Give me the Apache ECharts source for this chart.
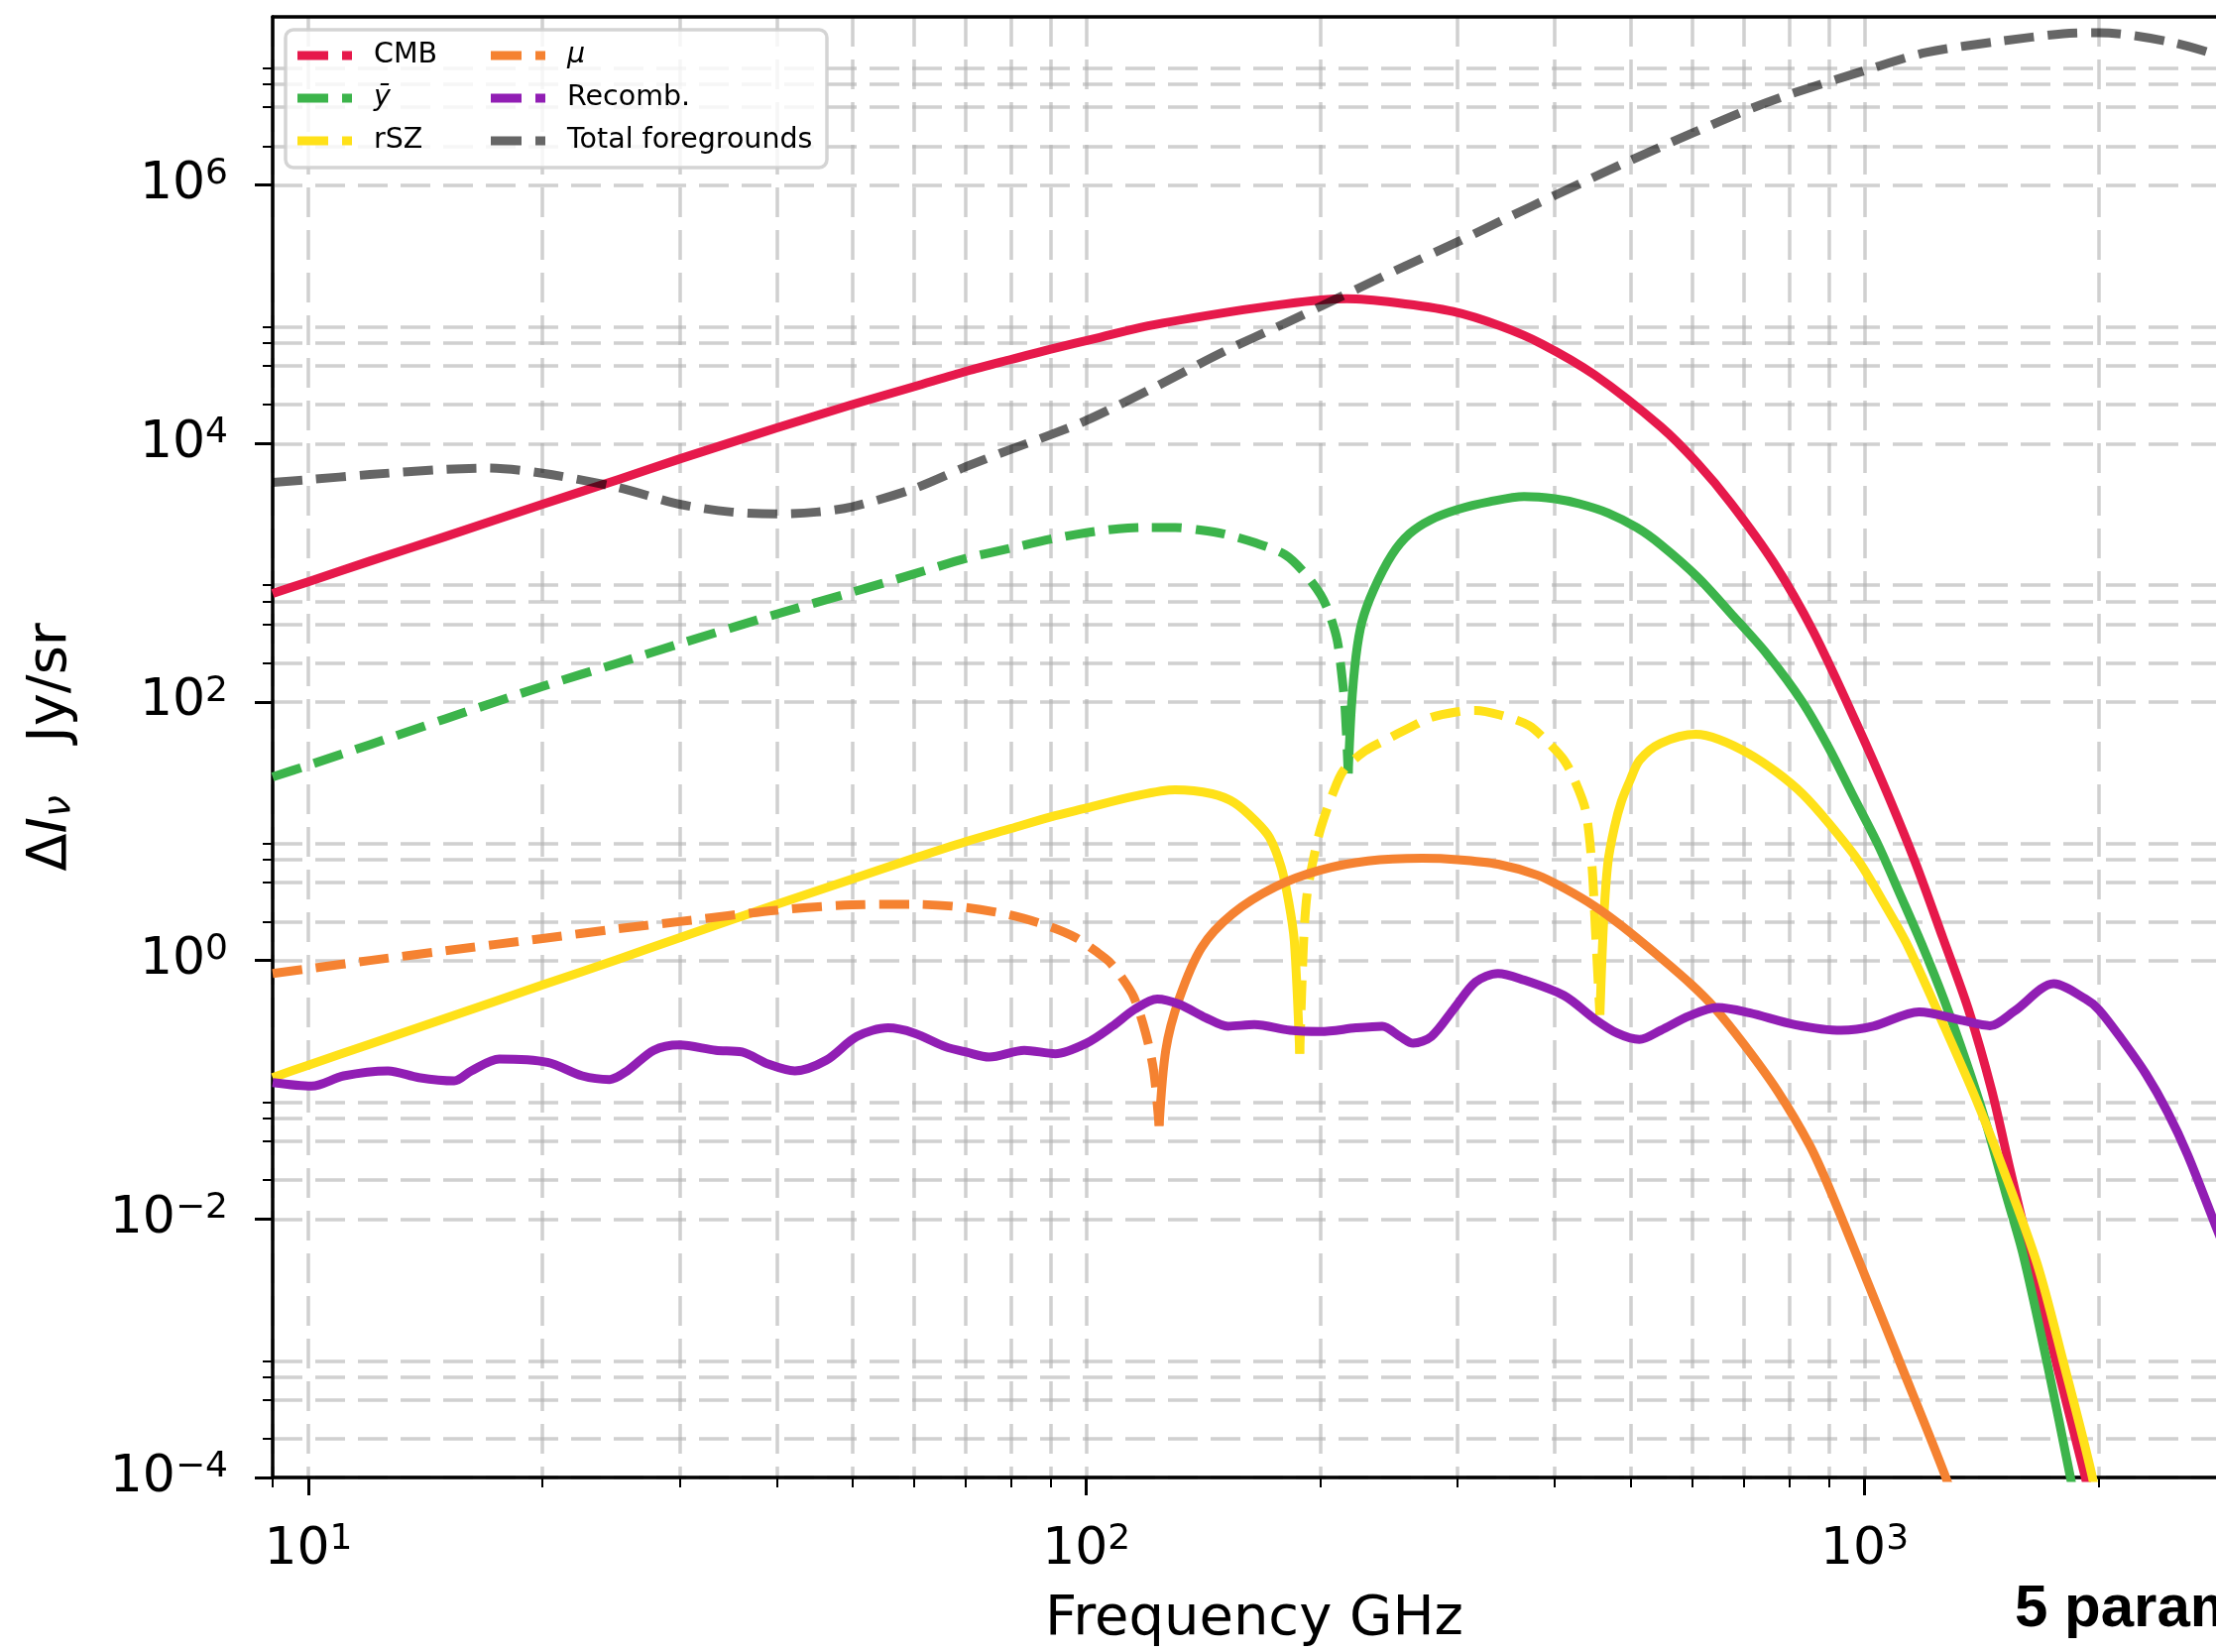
<!DOCTYPE html>
<html>
<head>
<meta charset="utf-8">
<script src="https://cdn.jsdelivr.net/npm/echarts@6/dist/echarts.min.js"></script>
<style>
  html, body { margin: 0; padding: 0; background: #fff; }
  #chart { width: 2235px; height: 1666px; }
</style>
</head>
<body>
<div id="chart"></div>
<script>
// frequencies in GHz, intensities in Jy/sr (abs value; dashed = negative part)
const freqCMB = [9,10,12,15,20,25,30,40,50,60,70.2,80,90,104,120,154,180,200,216,250,296,340,385,450,547,610,673,764,860,984,1070,1162,1260,1360,1456,1540,1634,1770,1918,2050];
const valCMB = [692,851,1230,1905,3390,5250,7590,13200,20000,27500,36300,44700,53700,66100,81300,105000,120000,129000,132000,123000,105000,81300,58900,33900,13500,7020,3470,1200,347,61.7,19.5,5.75,1.51,0.417,0.1,0.0234,0.00525,0.000708,0.000105,0.00002];

const freqYNeg = [9,10,12,15,20,25,30,40,50,60,70,80,90,100,110,120,130,140,150,165,180,190,200,205,210,213,215,217];
const valYNeg = [26.3,32.4,46.8,74.1,132,200,282,479,708,977,1290,1550,1820,2040,2190,2240,2240,2140,2000,1700,1380,1020,676,490,302,158,89,28];
const freqYPos = [217,219,222,226,234,247,260,277,300,330,365,400,430,468,510,547,610,673,750,832,900,964,1040,1114,1190,1264,1350,1430,1520,1600,1720,1836,1950];
const valYPos = [28,89,224,417,741,1380,2000,2570,3090,3550,3890,3740,3420,2900,2230,1650,925,486,233,100,44.1,19.4,7.93,3.12,1.25,0.504,0.166,0.057,0.01545,0.0052,0.000724,0.000105,0.0000162];

const freqRszA = [9,10,12,15,20,25,30,40,50,60,70,80,90,100,115,130,145,155,165,172,178,182,185,188];
const valRszA = [0.124,0.155,0.225,0.357,0.646,1.02,1.50,2.72,4.27,6.17,8.32,10.5,12.9,15.1,18.6,20.9,19.5,16.6,12.0,8.91,5.25,2.82,1.41,0.19];
const freqRszNeg = [188,190,192,196,200,207,214,228,243,260,277,300,316,340,370,390,411,425,438,446,451,457];
const valRszNeg = [0.19,1.26,3.16,6.31,10.5,19.1,29.5,41.7,51.3,63.1,75.9,84.1,86.1,79.4,66.1,50.1,35.5,24.0,14.5,5.75,1.70,0.38];
const freqRszB = [457,462,468,477,487,500,514,547,607,650,710,770,832,900,985,1060,1137,1264,1390,1500,1667,1800,1959,2050];
const valRszB = [0.38,2.0,5.75,10.7,17.0,25.1,35.5,47.9,56.2,51.3,39.8,28.8,19.5,11.5,5.75,2.75,1.29,0.316,0.0851,0.0263,0.00447,0.00079,0.000105,0.000025];

const freqMuNeg = [9,10,12,15,20,25,30,40,50,60,70,80,90,97,103,107,111,115,119,122,124];
const valMuNeg = [0.794,0.863,1.0,1.19,1.48,1.76,2.0,2.45,2.69,2.72,2.57,2.24,1.82,1.50,1.17,0.977,0.741,0.525,0.282,0.141,0.0525];
const freqMuPos = [124,126.5,131.5,140.6,154,175,200,230,270,300,338,380,411,450,487,547,600,640,700,773,850,902,1003,1112,1268,1320];
const valMuPos = [0.0525,0.204,0.501,1.26,2.29,3.72,5.01,5.89,6.17,6.03,5.56,4.57,3.63,2.63,1.86,1.05,0.646,0.437,0.224,0.0977,0.0372,0.0170,0.00355,0.000759,0.000105,0.00005];

const freqRec = [9.0,10.1,11.1,12.66,13.87,15.4,16.2,17.6,20.3,22.5,24.4,25.7,27.8,30.0,33.4,36.1,39.0,42.2,46.3,50.7,55.6,60.1,65.9,70.2,75,83.2,91.2,100,108,115.4,123.3,131.6,142.3,152,164.4,182.6,200,222,240,253,263,277.5,296.4,316.4,338,360.6,411,450.6,481,513.6,547,595,647,711,814,933,1026,1175,1332,1449,1559,1750,1923,2000,2135,2300,2450,2600,2825,3000];
const valRec = [0.1135,0.1067,0.128,0.140,0.124,0.117,0.140,0.173,0.163,0.128,0.120,0.140,0.202,0.222,0.202,0.196,0.158,0.140,0.169,0.258,0.301,0.274,0.215,0.195,0.179,0.202,0.190,0.229,0.310,0.420,0.504,0.459,0.361,0.310,0.319,0.288,0.282,0.301,0.310,0.258,0.229,0.258,0.420,0.682,0.794,0.724,0.535,0.350,0.274,0.245,0.288,0.372,0.433,0.394,0.319,0.288,0.310,0.400,0.345,0.313,0.407,0.661,0.504,0.417,0.251,0.132,0.0676,0.0316,0.00891,0.00355];

const freqFG = [9,10,12,15,17,20,25,30,35,40,45,50,60,70,80,90,100,120,150,180,200,250,300,350,400,500,600,700,800,1000,1200,1500,1800,2000,2500,3000];
const valFG = [5010,5250,5750,6310,6460,5890,4570,3390,2950,2850,2950,3240,4470,6610,9020,11700,15100,25700,51300,85100,115000,219000,363000,569000,832000,1550000,2510000,3720000,5010000,7670000,10600000,13000000,14800000,15100000,12600000,9100000];

// ticks
const xMajorTicks = [10, 100, 1000];
const xMinorTicks = [9, 20, 30, 40, 50, 60, 70, 80, 90, 200, 300, 400, 500, 600, 700, 800, 900, 2000, 3000];
const yMajorTicks = [1e-4, 1e-2, 1, 1e2, 1e4, 1e6];
const yMinorTicks = [2e-4, 4e-4, 6e-4, 8e-4, 2e-2, 4e-2, 6e-2, 8e-2, 2, 4, 6, 8, 200, 400, 600, 800, 2e4, 4e4, 6e4, 8e4, 2e6, 4e6, 6e6, 8e6];

const FONT = 'DejaVu Sans';
const gridDash = { color: 'rgba(176,176,176,0.6)', width: 3.5, type: [30, 13] };
const DASH = [30, 14];

const C = {
  cmb: '#e6194b', ybar: '#3cb44b', rsz: '#ffe119', mu: '#f58231',
  rec: '#911eb4', fg: 'rgba(0,0,0,0.6)'
};

function powLabel(v) {
  const e = Math.round(Math.log10(v));
  return '{b|10}{s|' + String(e).replace('-', '\u2212') + '}';
}
const tickRich = {
  b: { fontFamily: FONT, fontSize: 52, color: '#000' },
  s: { fontFamily: FONT, fontSize: 36, color: '#000', padding: [0, 0, 21, 0] }
};

function line(name, fr, vals, color, dashed) {
  return {
    name: name,
    type: 'line',
    xAxisIndex: 0,
    yAxisIndex: 0,
    data: fr.map((f, i) => [f, vals[i]]),
    symbol: 'none',
    showSymbol: false,
    smooth: 0.3,
    color: color,
    itemStyle: { color: color },
    lineStyle: { color: color, width: 9, type: dashed ? DASH : 'solid', join: 'round' },
    emphasis: { disabled: true },
    silent: true
  };
}

const legendCommon = {
  orient: 'vertical',
  top: 41,
  padding: 0,
  itemWidth: 55,
  itemHeight: 9,
  itemGap: 13,
  icon: 'path://M0,0H31V9H0Z M45,0H55V9H45Z',
  itemStyle: { borderWidth: 0 },
  selectedMode: false,
  textStyle: {
    fontFamily: FONT, fontSize: 28.5, color: '#000', lineHeight: 30,
    padding: [0, 0, 0, 17],
    rich: { i: { fontFamily: FONT, fontSize: 28.5, fontStyle: 'italic', color: '#000', lineHeight: 30 } }
  },
  formatter: function (n) {
    return (n === 'ȳ' || n === 'μ') ? '{i|' + n + '}' : n;
  }
};

const chart = echarts.init(document.getElementById('chart'));
chart.setOption({
  backgroundColor: '#fff',
  animation: false,
  grid: {
    left: 275, top: 17, right: -20, bottom: 176,
    containLabel: false, outerBoundsMode: 'none'
  },
  legend: [
    Object.assign({}, legendCommon, { left: 300, data: ['CMB', 'ȳ', 'rSZ'] }),
    Object.assign({}, legendCommon, { left: 495, data: ['μ', 'Recomb.', 'Total foregrounds'] })
  ],
  graphic: [
    {
      type: 'rect', z: 3,
      shape: { x: 288, y: 30, width: 546, height: 139, r: 8 },
      style: { fill: 'rgba(255,255,255,0.8)', stroke: 'rgba(204,204,204,0.85)', lineWidth: 3.5 }
    },
    {
      type: 'text', z: 3, x: 2032, y: 1623,
      style: { text: '5 parameters', fontFamily: 'Liberation Sans', fontWeight: 'bold', fontSize: 60, fill: '#000', verticalAlign: 'middle' }
    }
  ],
  xAxis: [
    {
      type: 'log', logBase: 10, min: 9, max: 3000, position: 'bottom',
      name: 'Frequency GHz', nameLocation: 'middle', nameGap: 115,
      nameTextStyle: { fontFamily: FONT, fontSize: 56, color: '#000' },
      axisLine: { show: true, onZero: false, lineStyle: { color: '#000', width: 3.5 } },
      axisTick: { show: true, customValues: xMajorTicks, length: 18, lineStyle: { color: '#000', width: 3 } },
      axisLabel: { customValues: xMajorTicks, formatter: powLabel, rich: tickRich, margin: 45 },
      splitLine: { show: true, lineStyle: gridDash },
      minorTick: { show: false }
    },
    {
      type: 'log', logBase: 10, min: 9, max: 3000, position: 'bottom',
      axisLine: { show: false },
      axisTick: { show: true, customValues: xMinorTicks, length: 10, lineStyle: { color: '#000', width: 2 } },
      axisLabel: { show: false },
      splitLine: { show: true, lineStyle: gridDash }
    },
    {
      type: 'log', logBase: 10, min: 9, max: 3000, position: 'top',
      axisLine: { show: true, onZero: false, lineStyle: { color: '#000', width: 3.5 } },
      axisTick: { show: false }, axisLabel: { show: false }, splitLine: { show: false }
    }
  ],
  yAxis: [
    {
      type: 'log', logBase: 10, min: 1e-4, max: 2e7, position: 'left',
      name: '{d|Δ}{i|I}{sub|ν}{d|   Jy/sr}', nameLocation: 'middle', nameGap: 196, nameRotate: 90,
      nameTextStyle: {
        color: '#000',
        rich: {
          d: { fontFamily: FONT, fontSize: 56, color: '#000' },
          i: { fontFamily: FONT, fontSize: 56, fontStyle: 'italic', color: '#000' },
          sub: { fontFamily: FONT, fontSize: 39, fontStyle: 'italic', color: '#000', padding: [17, 0, 0, 0] }
        }
      },
      axisLine: { show: true, onZero: false, lineStyle: { color: '#000', width: 3.5 } },
      axisTick: { show: true, customValues: yMajorTicks, length: 18, lineStyle: { color: '#000', width: 3 } },
      axisLabel: { customValues: yMajorTicks, formatter: powLabel, rich: tickRich, margin: 45 },
      splitLine: { show: true, lineStyle: gridDash },
      minorTick: { show: false }
    },
    {
      type: 'log', logBase: 10, min: 1e-4, max: 2e7, position: 'left',
      axisLine: { show: false },
      axisTick: { show: true, customValues: yMinorTicks, length: 10, lineStyle: { color: '#000', width: 2 } },
      axisLabel: { show: false },
      splitLine: { show: true, lineStyle: gridDash }
    }
  ],
  series: [
    line('CMB', freqCMB, valCMB, C.cmb, false),
    line('ȳ', freqYNeg, valYNeg, C.ybar, true),
    line('ȳ', freqYPos, valYPos, C.ybar, false),
    line('rSZ', freqRszA, valRszA, C.rsz, false),
    line('rSZ', freqRszNeg, valRszNeg, C.rsz, true),
    line('rSZ', freqRszB, valRszB, C.rsz, false),
    line('μ', freqMuNeg, valMuNeg, C.mu, true),
    line('μ', freqMuPos, valMuPos, C.mu, false),
    line('Recomb.', freqRec, valRec, C.rec, false),
    line('Total foregrounds', freqFG, valFG, C.fg, true)
  ]
});
</script>
</body>
</html>
